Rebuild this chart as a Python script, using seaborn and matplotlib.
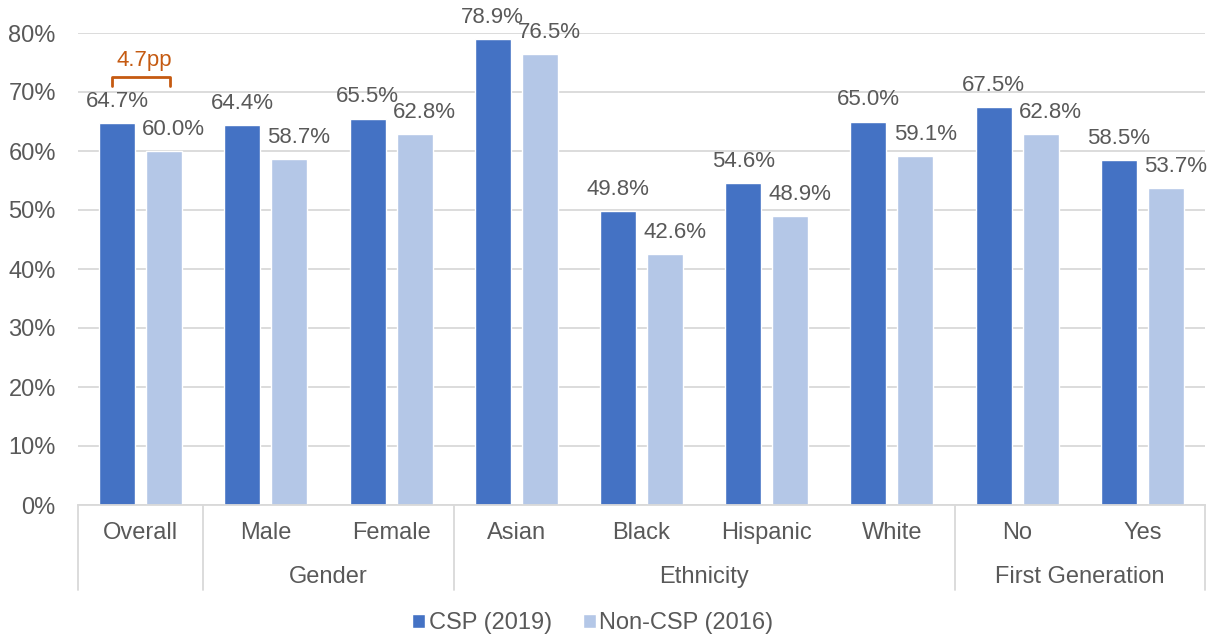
import matplotlib
matplotlib.use("Agg")
import matplotlib.pyplot as plt
import matplotlib.transforms as mtransforms
import pandas as pd
import seaborn as sns

# --------------------------------------------------
# Data
# --------------------------------------------------
categories = ["Overall", "Male", "Female", "Asian", "Black", "Hispanic",
              "White", "No", "Yes"]
groups = ["", "Gender", "Gender", "Ethnicity", "Ethnicity", "Ethnicity",
          "Ethnicity", "First Generation", "First Generation"]
series = ["CSP (2019)", "Non-CSP (2016)"]
csp_2019 = [64.7, 64.4, 65.5, 78.9, 49.8, 54.6, 65.0, 67.5, 58.5]
non_csp_2016 = [60.0, 58.7, 62.8, 76.5, 42.6, 48.9, 59.1, 62.8, 53.7]

colors = ["#4472C4", "#B4C7E7"]
text_color = "#595959"
grid_color = "#D9D9D9"
accent = "#C55A11"
fs = 17
label_fs = 16

df = pd.DataFrame({
    "category": categories * 2,
    "series": [series[0]] * len(categories) + [series[1]] * len(categories),
    "value": csp_2019 + non_csp_2016,
})

sns.set_style("white")
plt.rcParams["font.family"] = ["Liberation Sans", "DejaVu Sans"]

fig = plt.figure(figsize=(12.15, 6.41), dpi=100)
ax = fig.add_axes([78 / 1215, 1 - 505 / 641, (1205 - 78) / 1215, (505 - 33) / 641])

sns.barplot(data=df, x="category", y="value", hue="series", order=categories,
            hue_order=series, palette=colors, width=0.75, gap=0.234,
            saturation=1, ax=ax, legend=True)

# --------------------------------------------------
# Axes styling
# --------------------------------------------------
ax.set_ylim(0, 80)
ax.set_xlim(-0.5, len(categories) - 0.5)
ax.set_yticks(range(0, 81, 10))
ax.set_yticklabels([f"{v}%" for v in range(0, 81, 10)])
ax.yaxis.grid(True, color=grid_color, linewidth=1.3)
ax.set_axisbelow(True)
for side in ["left", "right", "top"]:
    ax.spines[side].set_visible(False)
ax.spines["bottom"].set_color(grid_color)
ax.spines["bottom"].set_linewidth(1.3)
ax.set_xlabel("")
ax.set_ylabel("")
ax.tick_params(axis="y", length=0, pad=16, labelsize=fs, labelcolor=text_color)
ax.tick_params(axis="x", length=0, pad=12, labelsize=fs, labelcolor=text_color)

# data labels (light series labels sit a little to the right, as in Excel)
for k, container in enumerate(ax.containers):
    dx = 0 if k == 0 else 7
    for bar in container:
        h = bar.get_height()
        ax.annotate(f"{h:.1f}%", (bar.get_x() + bar.get_width() / 2, h),
                    xytext=(dx, 8), textcoords="offset points",
                    ha="center", va="bottom", fontsize=label_fs,
                    color=text_color, annotation_clip=False)

# --------------------------------------------------
# Grouped category axis
# --------------------------------------------------
trans = mtransforms.blended_transform_factory(ax.transData, ax.transAxes)
bounds = [-0.5]
for i in range(1, len(groups)):
    if groups[i] != groups[i - 1]:
        bounds.append(i - 0.5)
bounds.append(len(groups) - 0.5)
for b in bounds:
    ax.plot([b, b], [0, -0.18], transform=trans, color=grid_color,
            linewidth=1.3, clip_on=False)
for start, end in zip(bounds[:-1], bounds[1:]):
    name = groups[int(start + 0.5)]
    if name:
        ax.text((start + end) / 2, -0.152, name, transform=trans,
                ha="center", va="center", fontsize=fs, color=text_color)

# --------------------------------------------------
# Gap annotation on the Overall pair
# --------------------------------------------------
gap_pp = csp_2019[0] - non_csp_2016[0]
ax.plot([-0.228, -0.228, 0.234, 0.234], [71.0, 72.5, 72.5, 71.0],
        color=accent, linewidth=2, clip_on=False)
ax.text(0.03, 75.3, f"{gap_pp:.1f}pp", ha="center", va="center",
        fontsize=label_fs, color=accent)

# --------------------------------------------------
# Legend
# --------------------------------------------------
handles, labels = ax.get_legend_handles_labels()
ax.get_legend().remove()
fig.legend(handles, labels, loc="center", bbox_to_anchor=(0.488, 1 - 623 / 641),
           ncol=2, frameon=False, fontsize=fs, handlelength=0.55,
           handleheight=0.55, handletextpad=0.15, columnspacing=1.3,
           labelcolor=text_color)

fig.savefig("out.png", dpi=100)
